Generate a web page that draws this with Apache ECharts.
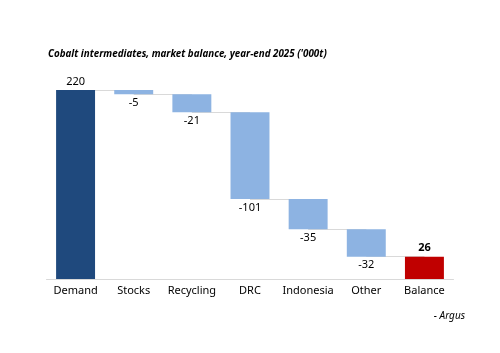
<!DOCTYPE html>
<html><head><meta charset="utf-8">
<script src="https://cdn.jsdelivr.net/npm/echarts@6/dist/echarts.min.js"></script>
<style>html,body{margin:0;padding:0;background:#fff}#c{width:500px;height:353px}</style>
</head><body><div id="c"></div>
<script>
var categories = ['Demand','Stocks','Recycling','DRC','Indonesia','Other','Balance'];
var values = [220,-5,-21,-101,-35,-32,26];
var kinds = ['total','delta','delta','delta','delta','delta','total'];

var FONT = '"Noto Sans", sans-serif';
var base = [], height = [], connectors = [];
var running = 0;
for (var i = 0; i < values.length; i++) {
  var v = values[i];
  if (kinds[i] === 'total') {
    base.push(0); height.push(v); running = v;
  } else {
    var next = running + v;
    base.push(Math.min(running, next)); height.push(Math.abs(v)); running = next;
  }
  if (i < values.length - 1) {
    connectors.push([{coord:[categories[i], running]},{coord:[categories[i+1], running]}]);
  }
}
var colors = values.map(function(v,i){
  if (i === 0) return '#1F497D';
  if (i === values.length-1) return '#C00000';
  return '#8DB3E2';
});

var chart = echarts.init(document.getElementById('c'));
chart.setOption({
  animation:false,
  title:{text:"Cobalt intermediates, market balance, year-end 2025 ('000t)", left:43, top:44, padding:5,
    textStyle:{fontFamily:FONT, fontSize:9.8, fontStyle:'italic', fontWeight:'bold', color:'#000'}},
  graphic:[{type:'text', right:35, top:311, style:{text:'- Argus', fontFamily:FONT, fontSize:10, fontStyle:'italic', fill:'#000'}}],
  grid:{left:46.5, right:46.5, top:90, bottom:74},
  xAxis:{type:'category', data:categories,
    axisLine:{lineStyle:{color:'#d9d9d9', width:1}}, axisTick:{show:false},
    axisLabel:{color:'#000', fontFamily:FONT, fontSize:11, margin:6, interval:0}},
  yAxis:{type:'value', min:0, max:220, show:false, splitLine:{show:false}},
  series:[
    {type:'line', data:[], z:1, silent:true,
     markLine:{symbol:'none', silent:true, z:1, label:{show:false}, emphasis:{disabled:true}, lineStyle:{color:'#d9d9d9', type:'solid', width:1}, data:connectors}},
    {type:'bar', stack:'w', data:base, itemStyle:{color:'transparent'}, barWidth:'67%', silent:true, z:3},
    {type:'bar', stack:'w', barWidth:'67%', z:3,
     data:height.map(function(h,i){
       var neg = values[i] < 0;
       return {value:h, itemStyle:{color:colors[i]},
         label:{show:true, position: neg?'bottom':'top', distance:3,
           formatter: String(values[i]),
           fontWeight: i===values.length-1?'bold':'normal'}};
     }),
     label:{fontFamily:FONT, fontSize:11, color:'#000'}}
  ]
});
</script></body></html>
